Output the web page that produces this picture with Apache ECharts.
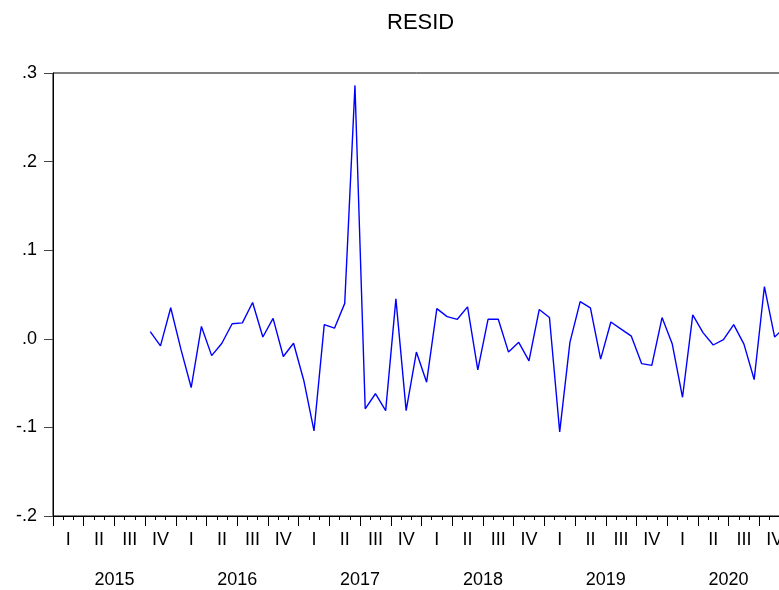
<!DOCTYPE html>
<html>
<head>
<meta charset="utf-8">
<script src="https://cdn.jsdelivr.net/npm/echarts@6/dist/echarts.min.js"></script>
<style>
  html, body { margin: 0; padding: 0; background: #fff; }
  #chart { width: 779px; height: 590px; }
</style>
</head>
<body>
<div id="chart"></div>
<script>
// ---- data ----
const chartTitle = 'RESID';
const years = ['2015', '2016', '2017', '2018', '2019', '2020'];
const quarterNames = ['I', 'II', 'III', 'IV'];
const residStart = '2015M10';
const residValues = [
  0.008, -0.008, 0.035,                                                          // 2015 M10-M12
  -0.012, -0.055, 0.014, -0.019, -0.005, 0.017, 0.018, 0.041, 0.002, 0.023, -0.020, -0.005, // 2016
  -0.047, -0.104, 0.016, 0.012, 0.040, 0.286, -0.079, -0.062, -0.081, 0.045, -0.081, -0.015, // 2017
  -0.049, 0.034, 0.025, 0.022, 0.036, -0.035, 0.022, 0.022, -0.015, -0.004, -0.025, 0.033,   // 2018
  0.024, -0.105, -0.004, 0.042, 0.035, -0.023, 0.019, 0.011, 0.003, -0.028, -0.030, 0.024,   // 2019
  -0.006, -0.066, 0.027, 0.007, -0.007, -0.001, 0.016, -0.006, -0.046, 0.059, 0.002, 0.013   // 2020
];
const yTicks = { min: -0.2, max: 0.3, interval: 0.1 };

// ---- derived category lists ----
const months = [];
years.forEach(y => { for (let m = 1; m <= 12; m++) months.push(y + 'M' + (m < 10 ? '0' + m : m)); });
const quarters = [];
years.forEach(y => quarterNames.forEach(q => quarters.push(q)));
const startIdx = months.indexOf(residStart);
const seriesData = months.map((m, i) => (i >= startIdx && i - startIdx < residValues.length) ? residValues[i - startIdx] : null);

const FONT = 'Liberation Sans, Arial, sans-serif';
const chart = echarts.init(document.getElementById('chart'), null, { renderer: 'canvas' });
chart.setOption({
  backgroundColor: '#ffffff',
  animation: false,
  title: {
    text: chartTitle,
    left: 387,
    top: 12,
    padding: 0,
    textStyle: { fontFamily: FONT, fontSize: 22, fontWeight: 'normal', color: '#000' }
  },
  grid: {
    left: 53, top: 73, width: 737, height: 443,
    show: true, borderColor: '#000', borderWidth: 1, backgroundColor: 'transparent',
    containLabel: false,
    outerBoundsMode: 'none'
  },
  xAxis: [
    {
      type: 'category', data: months, boundaryGap: true, position: 'bottom', offset: 0,
      axisLine: { show: true, onZero: false, lineStyle: { color: '#000', width: 1 } },
      axisTick: { show: true, interval: 0, length: 4, lineStyle: { color: '#000' } },
      axisLabel: { show: false },
      splitLine: { show: false }
    },
    {
      type: 'category', data: quarters, boundaryGap: true, position: 'bottom', offset: 0,
      axisLine: { show: false, onZero: false },
      axisTick: { show: true, interval: 0, length: 10, lineStyle: { color: '#000' } },
      axisLabel: { show: true, interval: 0, margin: 15, fontFamily: FONT, fontSize: 18, color: '#000' },
      splitLine: { show: false }
    },
    {
      type: 'category', data: years, boundaryGap: true, position: 'bottom', offset: 0,
      axisLine: { show: false, onZero: false },
      axisTick: { show: false },
      axisLabel: { show: true, interval: 0, margin: 55, fontFamily: FONT, fontSize: 18, color: '#000' },
      splitLine: { show: false }
    }
  ],
  yAxis: {
    type: 'value', min: yTicks.min, max: yTicks.max, interval: yTicks.interval,
    axisLine: { show: true, onZero: false, lineStyle: { color: '#000', width: 1 } },
    axisTick: { show: true, length: 9, lineStyle: { color: '#444' } },
    axisLabel: {
      margin: 16, fontFamily: FONT, fontSize: 18, color: '#000',
      padding: [0, 0, 9, 0],
      formatter: v => { const s = (Math.round(v * 10) / 10).toFixed(1); return s.replace(/^(-?)0\./, '$1.'); }
    },
    splitLine: { show: false }
  },
  series: [{
    name: chartTitle,
    type: 'line',
    xAxisIndex: 0,
    data: seriesData,
    showSymbol: false,
    symbol: 'none',
    connectNulls: false,
    lineStyle: { color: '#0000ff', width: 1.4 },
    emphasis: { disabled: true }
  }]
});
</script>
</body>
</html>
